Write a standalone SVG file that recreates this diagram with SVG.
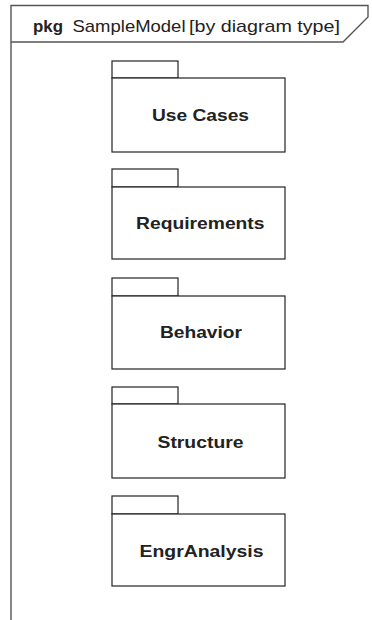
<svg xmlns="http://www.w3.org/2000/svg" width="372" height="620" viewBox="0 0 372 620">
<style>
.frame{fill:none;stroke:#555;stroke-width:1.4}
.pkg{fill:#fff;stroke:#222;stroke-width:1.2}
.lbl{font-family:"Liberation Sans",Arial,sans-serif;font-size:16.5px;font-weight:bold;fill:#222}
.hdr{font-family:"Liberation Sans",Arial,sans-serif;font-size:17px;fill:#222}
</style>
<rect width="372" height="620" fill="#fff"/>
<g id="frame">
<path class="frame" d="M11,620 L11,5.5 L368,5.5 L368,17 L343,42 L11,42"/>
<text class="hdr" x="33" y="31.5"><tspan font-weight="bold" x="33" textLength="30" lengthAdjust="spacingAndGlyphs">pkg</tspan><tspan x="72.5" textLength="113" lengthAdjust="spacingAndGlyphs">SampleModel</tspan><tspan x="189" textLength="151" lengthAdjust="spacingAndGlyphs">[by diagram type]</tspan></text>
</g>
<g id="use-cases">
<rect class="pkg" x="112" y="61" width="66" height="17"/>
<rect class="pkg" x="112" y="78" width="173" height="74"/>
<text class="lbl" x="152" y="121" textLength="97" lengthAdjust="spacingAndGlyphs">Use Cases</text>
</g>
<g id="requirements">
<rect class="pkg" x="112" y="169" width="66" height="18"/>
<rect class="pkg" x="112" y="187" width="173" height="72"/>
<text class="lbl" x="136" y="229" textLength="128.5" lengthAdjust="spacingAndGlyphs">Requirements</text>
</g>
<g id="behavior">
<rect class="pkg" x="112" y="278" width="66" height="18"/>
<rect class="pkg" x="112" y="296" width="173" height="73"/>
<text class="lbl" x="160" y="338" textLength="82" lengthAdjust="spacingAndGlyphs">Behavior</text>
</g>
<g id="structure">
<rect class="pkg" x="112" y="387" width="66" height="17"/>
<rect class="pkg" x="112" y="404" width="173" height="74"/>
<text class="lbl" x="157.5" y="448" textLength="86" lengthAdjust="spacingAndGlyphs">Structure</text>
</g>
<g id="engr-analysis">
<rect class="pkg" x="112" y="496" width="66" height="18"/>
<rect class="pkg" x="112" y="514" width="173" height="72"/>
<text class="lbl" x="139.5" y="557" textLength="124" lengthAdjust="spacingAndGlyphs">EngrAnalysis</text>
</g>
<g id="connectors"/>
</svg>
